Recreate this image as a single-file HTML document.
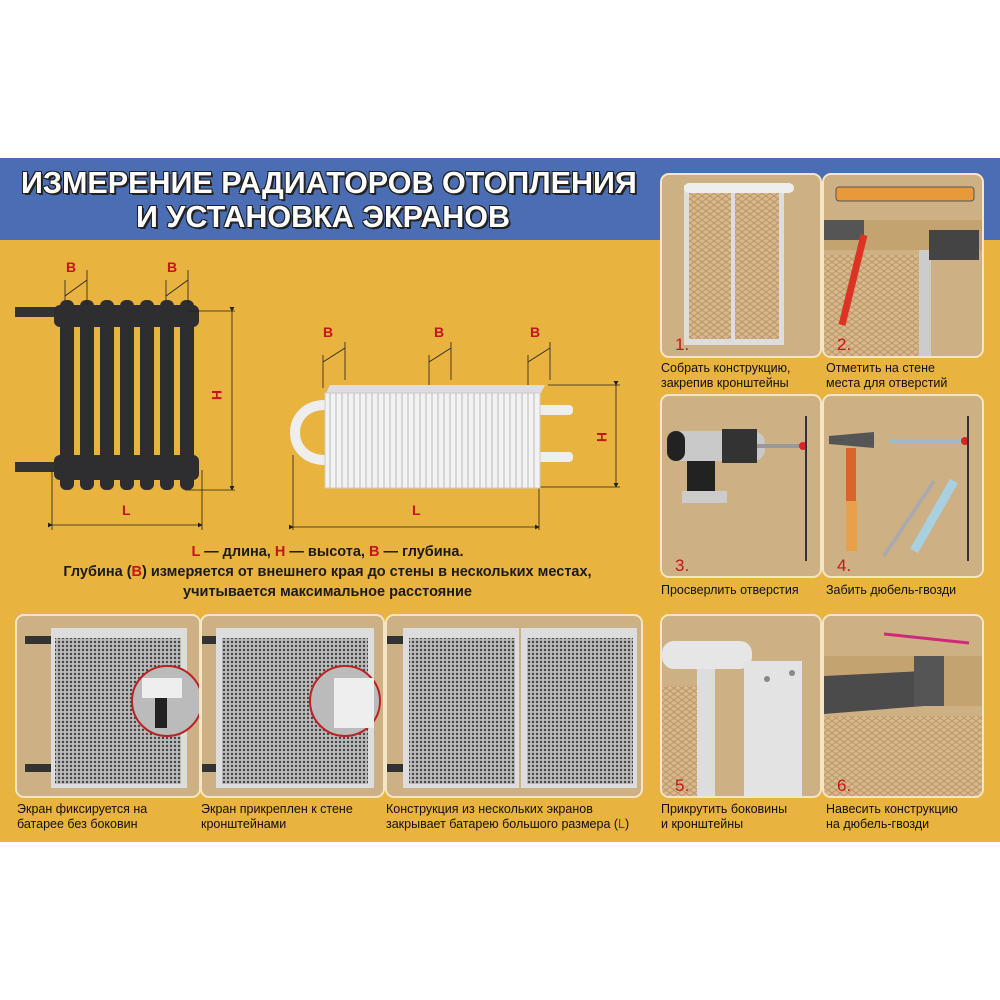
<!DOCTYPE html>
<html><head><meta charset="utf-8"><style>
body{margin:0;width:1000px;height:1000px;background:#fff;position:relative;overflow:hidden;font-family:"Liberation Sans","DejaVu Sans",sans-serif}
.a{position:absolute}
.p{position:absolute;background:#cdb083;border:2px solid #f4e6c4;border-radius:9px;box-sizing:border-box;overflow:hidden}
.cap{position:absolute;font-size:12.5px;line-height:15px;color:#111;font-family:"Liberation Sans Narrow","Liberation Sans",sans-serif}
.num{position:absolute;color:#c4161c;font-size:17px}
.t{position:absolute;color:#fff;font-weight:bold;font-size:30.5px;text-shadow:2px 2px 0 #222,-1px -1px 0 #222,1px -1px 0 #222,-1px 1px 0 #222;white-space:nowrap}
.r{color:#c4161c}
</style></head><body>
<div class="a" style="left:0;top:158px;width:1000px;height:684px;background:#e8b33e"></div>
<div class="a" style="left:0;top:158px;width:1000px;height:82px;background:#4a6db3"></div>
<div class="t" style="left:21px;top:166px">ИЗМЕРЕНИЕ РАДИАТОРОВ ОТОПЛЕНИЯ</div>
<div class="t" style="left:136px;top:200px">И УСТАНОВКА ЭКРАНОВ</div>

<svg class="a" style="left:0;top:0" width="1000" height="1000">
<defs>
<pattern id="mesh" width="8" height="6" patternUnits="userSpaceOnUse"><rect width="8" height="6" fill="#d9b98a"/><path d="M0 3L4 0L8 3L4 6Z" fill="none" stroke="#b8956a" stroke-width="1"/></pattern>
<pattern id="gm" width="4" height="4" patternUnits="userSpaceOnUse"><rect width="4" height="4" fill="#bbb"/><circle cx="2" cy="2" r="1.2" fill="#444"/></pattern>
<marker id="ar" markerWidth="6" markerHeight="6" refX="5" refY="3" orient="auto"><path d="M0 0L6 3L0 6Z" fill="#222"/></marker>
</defs>
<rect x="15" y="307" width="42" height="10" fill="#333"/><rect x="15" y="462" width="42" height="10" fill="#333"/>
<g fill="#2e2e30">
<rect x="54" y="305" width="145" height="22" rx="6"/><rect x="54" y="455" width="145" height="25" rx="6"/>
<rect x="60" y="300" width="14" height="190" rx="6"/><rect x="80" y="300" width="14" height="190" rx="6"/><rect x="100" y="300" width="14" height="190" rx="6"/><rect x="120" y="300" width="14" height="190" rx="6"/><rect x="140" y="300" width="14" height="190" rx="6"/><rect x="160" y="300" width="14" height="190" rx="6"/><rect x="180" y="300" width="14" height="190" rx="6"/>
</g>
<g stroke="#222" stroke-width="0.8" fill="none">
<line x1="188" y1="311" x2="235" y2="311"/><line x1="185" y1="490" x2="235" y2="490"/><line x1="232" y1="311" x2="232" y2="490" marker-end="url(#ar)" marker-start="url(#ar)"/>
<line x1="52" y1="470" x2="52" y2="530"/><line x1="202" y1="470" x2="202" y2="530"/><line x1="52" y1="525" x2="202" y2="525" marker-end="url(#ar)" marker-start="url(#ar)"/>
<line x1="65" y1="280" x2="65" y2="300"/><line x1="87" y1="270" x2="87" y2="305"/><line x1="65" y1="296" x2="87" y2="280"/>
<line x1="166" y1="280" x2="166" y2="300"/><line x1="188" y1="270" x2="188" y2="305"/><line x1="166" y1="296" x2="188" y2="280"/>
<line x1="323" y1="355" x2="323" y2="388"/><line x1="345" y1="342" x2="345" y2="380"/><line x1="323" y1="362" x2="345" y2="348"/>
<line x1="429" y1="355" x2="429" y2="388"/><line x1="451" y1="342" x2="451" y2="380"/><line x1="429" y1="362" x2="451" y2="348"/>
<line x1="528" y1="355" x2="528" y2="388"/><line x1="550" y1="342" x2="550" y2="380"/><line x1="528" y1="362" x2="550" y2="348"/>
<line x1="548" y1="385" x2="620" y2="385"/><line x1="540" y1="487" x2="620" y2="487"/><line x1="616" y1="385" x2="616" y2="487" marker-end="url(#ar)" marker-start="url(#ar)"/>
<line x1="293" y1="455" x2="293" y2="530"/><line x1="539" y1="485" x2="539" y2="530"/><line x1="293" y1="527" x2="539" y2="527" marker-end="url(#ar)" marker-start="url(#ar)"/>
</g>
<path d="M325 405 C285 405 285 460 325 460" stroke="#eee" stroke-width="10" fill="none"/>
<rect x="535" y="405" width="38" height="10" rx="4" fill="#eee"/><rect x="535" y="452" width="38" height="10" rx="4" fill="#eee"/>
<polygon points="325,395 330,385 545,385 540,395" fill="#ddd"/>
<rect x="325" y="393" width="215" height="95" fill="#f2f2f2" stroke="#ccc"/>
<g stroke="#bbb" stroke-width="1">
<path d="M330 393V488M336 393V488M342 393V488M348 393V488M354 393V488M360 393V488M366 393V488M372 393V488M378 393V488M384 393V488M390 393V488M396 393V488M402 393V488M408 393V488M414 393V488M420 393V488M426 393V488M432 393V488M438 393V488M444 393V488M450 393V488M456 393V488M462 393V488M468 393V488M474 393V488M480 393V488M486 393V488M492 393V488M498 393V488M504 393V488M510 393V488M516 393V488M522 393V488M528 393V488M534 393V488"/>
</g>
</svg>
<div class="a r" style="left:66px;top:259px;font-size:14px;font-weight:bold">В</div>
<div class="a r" style="left:167px;top:259px;font-size:14px;font-weight:bold">В</div>
<div class="a r" style="left:323px;top:324px;font-size:14px;font-weight:bold">В</div>
<div class="a r" style="left:434px;top:324px;font-size:14px;font-weight:bold">В</div>
<div class="a r" style="left:530px;top:324px;font-size:14px;font-weight:bold">В</div>
<div class="a r" style="left:212px;top:387px;font-size:14px;font-weight:bold;transform:rotate(90deg)">Н</div>
<div class="a r" style="left:597px;top:429px;font-size:14px;font-weight:bold;transform:rotate(90deg)">Н</div>
<div class="a r" style="left:122px;top:502px;font-size:14px;font-weight:bold">L</div>
<div class="a r" style="left:412px;top:502px;font-size:14px;font-weight:bold">L</div>
<div class="a" style="left:0;top:542px;width:655px;text-align:center;font-size:14.5px;font-weight:bold;line-height:20px;color:#1a1a1a"><span class="r">L</span> — длина, <span class="r">Н</span> — высота, <span class="r">В</span> — глубина.<br>Глубина (<span class="r">В</span>) измеряется от внешнего края до стены в нескольких местах,<br>учитывается максимальное расстояние</div>

<div class="p" style="left:660px;top:173px;width:162px;height:185px"><svg width="160" height="183"><rect x="22" y="10" width="100" height="160" fill="#ddd"/><rect x="27" y="18" width="42" height="146" fill="url(#mesh)"/><rect x="73" y="18" width="44" height="146" fill="url(#mesh)"/><rect x="22" y="8" width="110" height="10" rx="5" fill="#eee"/></svg><div class="num" style="left:13px;top:160px">1.</div></div>
<div class="p" style="left:822px;top:173px;width:162px;height:185px"><svg width="160" height="183"><rect x="0" y="45" width="160" height="30" fill="#c3a370"/><rect x="0" y="80" width="95" height="103" fill="url(#mesh)"/><rect x="95" y="75" width="12" height="108" fill="#ccc"/><rect x="0" y="45" width="40" height="20" fill="#555"/><rect x="105" y="55" width="50" height="30" fill="#444"/><rect x="12" y="12" width="138" height="14" rx="3" fill="#e89a3a" stroke="#555"/><line x1="40" y1="60" x2="18" y2="150" stroke="#d32" stroke-width="7"/></svg><div class="num" style="left:13px;top:160px">2.</div></div>
<div class="p" style="left:660px;top:394px;width:162px;height:184px"><svg width="160" height="182"><rect x="8" y="35" width="95" height="30" rx="12" fill="#c9c9c9"/><rect x="5" y="35" width="18" height="30" rx="9" fill="#222"/><rect x="60" y="33" width="35" height="34" fill="#333"/><line x1="95" y1="50" x2="138" y2="50" stroke="#999" stroke-width="4"/><rect x="25" y="65" width="28" height="40" fill="#222"/><rect x="20" y="95" width="45" height="12" fill="#ccc"/><circle cx="141" cy="50" r="4" fill="#d22"/><line x1="144" y1="20" x2="144" y2="165" stroke="#333" stroke-width="2"/></svg><div class="num" style="left:13px;top:160px">3.</div></div>
<div class="p" style="left:822px;top:394px;width:162px;height:184px"><svg width="160" height="182"><polygon points="5,40 50,36 50,52 5,48" fill="#555"/><rect x="22" y="52" width="10" height="55" fill="#d8652a"/><rect x="22" y="105" width="11" height="50" fill="#e8a04a"/><line x1="65" y1="45" x2="140" y2="45" stroke="#9bc" stroke-width="4"/><circle cx="141" cy="45" r="4" fill="#d22"/><line x1="144" y1="20" x2="144" y2="165" stroke="#333" stroke-width="2"/><line x1="110" y1="85" x2="60" y2="160" stroke="#aaa" stroke-width="4"/><line x1="130" y1="85" x2="90" y2="155" stroke="#a8d0e0" stroke-width="9"/></svg><div class="num" style="left:13px;top:160px">4.</div></div>
<div class="p" style="left:660px;top:614px;width:162px;height:184px"><svg width="160" height="182"><rect x="0" y="70" width="35" height="112" fill="url(#mesh)"/><rect x="35" y="30" width="18" height="152" fill="#ddd"/><rect x="0" y="25" width="90" height="28" rx="12" fill="#e6e6e6"/><rect x="82" y="45" width="58" height="137" fill="#e3e3e3"/><circle cx="105" cy="63" r="3" fill="#888"/><circle cx="130" cy="57" r="3" fill="#888"/></svg><div class="num" style="left:13px;top:160px">5.</div></div>
<div class="p" style="left:822px;top:614px;width:162px;height:184px"><svg width="160" height="182"><rect x="0" y="40" width="160" height="50" fill="#c3a370"/><rect x="0" y="100" width="160" height="82" fill="url(#mesh)"/><polygon points="0,60 100,55 100,90 0,98" fill="#4b4b4b"/><rect x="90" y="40" width="30" height="50" fill="#555"/><line x1="60" y1="18" x2="145" y2="27" stroke="#d0287a" stroke-width="3"/></svg><div class="num" style="left:13px;top:160px">6.</div></div>
<div class="cap" style="left:661px;top:361px">Собрать конструкцию,<br>закрепив кронштейны</div>
<div class="cap" style="left:826px;top:361px">Отметить на стене<br>места для отверстий</div>
<div class="cap" style="left:661px;top:583px">Просверлить отверстия</div>
<div class="cap" style="left:826px;top:583px">Забить дюбель-гвозди</div>
<div class="cap" style="left:661px;top:802px">Прикрутить боковины<br>и кронштейны</div>
<div class="cap" style="left:826px;top:802px">Навесить конструкцию<br>на дюбель-гвозди</div>

<div class="p" style="left:15px;top:614px;width:186px;height:184px"><svg width="184" height="182"><rect x="8" y="20" width="30" height="8" fill="#333"/><rect x="8" y="148" width="30" height="8" fill="#333"/><rect x="34" y="12" width="136" height="160" fill="#ddd"/><rect x="38" y="22" width="126" height="146" fill="url(#gm)"/><circle cx="150" cy="85" r="35" fill="#bbb" stroke="#b22" stroke-width="2"/><rect x="125" y="62" width="40" height="20" fill="#eee"/><rect x="138" y="82" width="12" height="30" fill="#222"/></svg></div>
<div class="p" style="left:200px;top:614px;width:185px;height:184px"><svg width="183" height="182"><rect x="0" y="20" width="20" height="8" fill="#333"/><rect x="0" y="148" width="20" height="8" fill="#333"/><rect x="14" y="12" width="158" height="160" fill="#ddd"/><rect x="20" y="22" width="146" height="146" fill="url(#gm)"/><circle cx="143" cy="85" r="35" fill="#bbb" stroke="#b22" stroke-width="2"/><rect x="132" y="62" width="40" height="50" fill="#eee"/></svg></div>
<div class="p" style="left:385px;top:614px;width:258px;height:184px"><svg width="256" height="182"><rect x="0" y="20" width="20" height="8" fill="#333"/><rect x="0" y="148" width="20" height="8" fill="#333"/><rect x="16" y="12" width="116" height="160" fill="#ddd"/><rect x="134" y="12" width="116" height="160" fill="#ddd"/><rect x="22" y="22" width="106" height="146" fill="url(#gm)"/><rect x="140" y="22" width="106" height="146" fill="url(#gm)"/></svg></div>
<div class="cap" style="left:17px;top:802px">Экран фиксируется на<br>батарее без боковин</div>
<div class="cap" style="left:201px;top:802px">Экран прикреплен к стене<br>кронштейнами</div>
<div class="cap" style="left:386px;top:802px">Конструкция из нескольких экранов<br>закрывает батарею большого размера (<span class="r">L</span>)</div>
</body></html>
